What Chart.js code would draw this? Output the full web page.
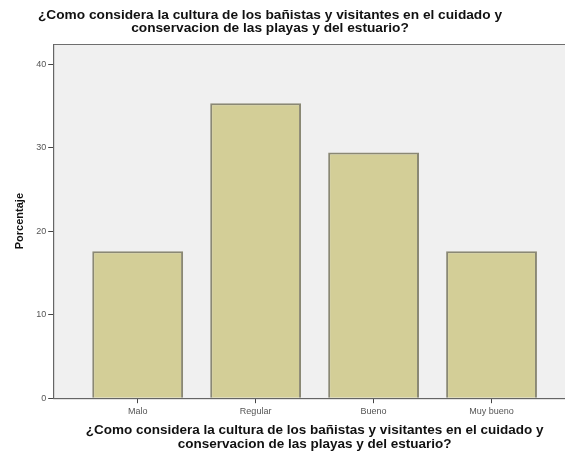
<!DOCTYPE html>
<html>
<head>
<meta charset="utf-8">
<script src="https://cdn.jsdelivr.net/npm/chart.js@4/dist/chart.umd.min.js"></script>
<style>
  html, body { margin: 0; padding: 0; background: #fff; overflow: hidden; }
  #wrap { width: 565px; height: 451px; overflow: hidden; }
</style>
</head>
<body>
<div id="wrap"><canvas id="chart" width="590" height="451"></canvas></div>
<script>
var categories = ["Malo", "Regular", "Bueno", "Muy bueno"];
var percentages = [17.6, 35.3, 29.4, 17.6];
var yTicks = [0, 10, 20, 30, 40];
var titleLines = ["¿Como considera la cultura de los bañistas y visitantes en el cuidado y",
                  "conservacion de las playas y del estuario?"];

// grey plot background, frame and the chart title (SPSS style)
var plotFrame = {
    id: 'plotFrame',
    beforeDraw: function (chart) {
        var a = chart.chartArea, c = chart.ctx;
        c.save();
        c.fillStyle = '#f0f0f0';
        c.fillRect(a.left, a.top, a.right - a.left, a.bottom - a.top);
        c.restore();
    },
    afterDraw: function (chart) {
        var a = chart.chartArea, c = chart.ctx;
        c.save();
        c.strokeStyle = '#6e6e6e';
        c.lineWidth = 1;
        c.strokeRect(a.left + 0.5, a.top + 0.5, a.right - a.left - 1, a.bottom - a.top);
        c.fillStyle = '#111';
        c.font = 'bold 13.7px "Liberation Sans"';
        c.textAlign = 'center';
        c.textBaseline = 'middle';
        c.fillText(titleLines[0], 270, 15);
        c.fillText(titleLines[1], 270, 28);
        c.restore();
    }
};

var points = categories.map(function (c, i) { return { x: i, y: percentages[i] }; });

var ctx = document.getElementById("chart").getContext('2d');
var chart = new Chart(ctx, {
    type: 'bar',
    data: {
        datasets: [{
            label: "Porcentaje",
            data: points,
            backgroundColor: '#d3ce97',
            borderColor: '#8a8874',
            borderWidth: 2,
            barPercentage: 0.77,
            categoryPercentage: 1.0
        }]
    },
    options: {
        responsive: false,
        animation: false,
        layout: { padding: { left: 13, right: 14, top: 44, bottom: 0 } },
        plugins: {
            legend: { display: false },
            tooltip: { enabled: false }
        },
        scales: {
            x: {
                type: 'linear',
                offset: false,
                min: -0.716,
                max: 3.716,
                afterBuildTicks: function (axis) {
                    axis.ticks = categories.map(function (c, i) { return { value: i }; });
                },
                grid: { display: true, offset: false, drawOnChartArea: false, drawTicks: true, tickLength: 5, color: '#444' },
                border: { display: true, color: '#444' },
                ticks: {
                    color: '#555',
                    font: { family: 'Liberation Sans', size: 9 },
                    padding: 3,
                    callback: function (v) { return categories[v]; }
                },
                title: {
                    display: true,
                    text: titleLines,
                    color: '#111',
                    font: { family: 'Liberation Sans', size: 13.5, weight: 'bold', lineHeight: 1.0 },
                    padding: { top: 4, bottom: 0 }
                }
            },
            y: {
                min: 0,
                max: 42.4,
                afterBuildTicks: function (axis) {
                    axis.ticks = yTicks.map(function (v) { return { value: v }; });
                },
                grid: { display: true, drawOnChartArea: false, drawTicks: true, tickLength: 5, color: '#444' },
                border: { display: true, color: '#444' },
                ticks: { color: '#555', font: { family: 'Liberation Sans', size: 9 }, padding: 2 },
                title: {
                    display: true,
                    text: 'Porcentaje',
                    color: '#111',
                    font: { family: 'Liberation Sans', size: 11, weight: 'bold' },
                    padding: { top: 0, bottom: 8 }
                }
            }
        }
    },
    plugins: [plotFrame]
});
</script>
</body>
</html>
